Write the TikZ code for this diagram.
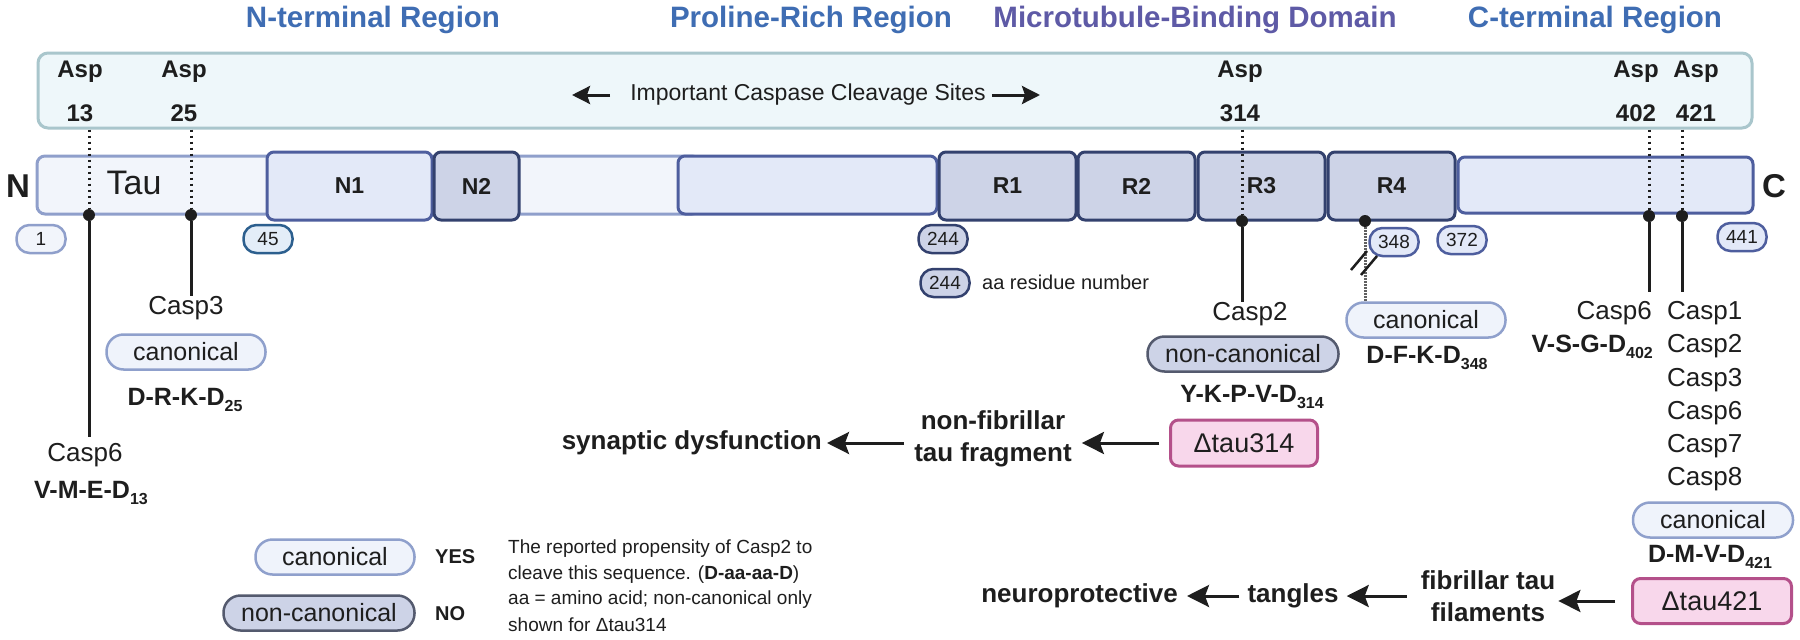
\documentclass[tikz,border=0pt]{standalone}
\usepackage{fontspec}
\setmainfont{Liberation Sans}
\usetikzlibrary{arrows.meta}
\definecolor{txt}{HTML}{1E1E1E}
\definecolor{tblue}{HTML}{3F6DB3}
\definecolor{tpurple}{HTML}{5E5AA6}
\definecolor{topfill}{HTML}{EEF7FA}
\definecolor{topdraw}{HTML}{A9C6CC}
\definecolor{barfill}{HTML}{F2F5FB}
\definecolor{bardraw}{HTML}{8F9FCB}
\definecolor{ldfill}{HTML}{E3E9F8}
\definecolor{lddraw}{HTML}{4E5E9E}
\definecolor{ddfill}{HTML}{CDD3E7}
\definecolor{dddraw}{HTML}{33416E}
\definecolor{canfill}{HTML}{EFF3FB}
\definecolor{candraw}{HTML}{8FA0CC}
\definecolor{ncfill}{HTML}{CDD3E7}
\definecolor{ncdraw}{HTML}{545A6E}
\definecolor{tealfill}{HTML}{E3EDF8}
\definecolor{tealdraw}{HTML}{2C5F8E}
\definecolor{fragfill}{HTML}{F8D7EB}
\definecolor{fragdraw}{HTML}{B4508A}
\newcommand\fsz[1]{\fontsize{#1}{#1}\selectfont}
\newcommand\aasub[1]{\raisebox{-0.22em}{\fontsize{16}{16}\selectfont #1}}
\begin{document}
\begin{tikzpicture}[x=1pt,y=-1pt,
 title/.style={font=\fsz{29.5}\bfseries, inner sep=0pt},
 aspl/.style={font=\fsz{24}\bfseries, text=txt, inner sep=0pt},
 dombox/.style={draw, line width=3pt, rounded corners=7pt, inner sep=0pt, font=\fsz{23}\bfseries, text=txt},
 lightdom/.style={dombox, fill=ldfill, draw=lddraw},
 darkdom/.style={dombox, fill=ddfill, draw=dddraw},
 dotn/.style={circle, fill=txt, inner sep=0pt, minimum size=12pt},
 dotline/.style={line width=3pt, dash pattern=on 2.5pt off 3.5pt, draw=txt},
 r4line/.style={line width=3pt, dash pattern=on 1.5pt off 1.5pt, draw=txt!70},
 stick/.style={line width=3pt, draw=txt},
 res/.style={draw, line width=2.5pt, rounded corners=13pt, minimum height=28pt, minimum width=49pt, inner sep=0pt, font=\fsz{19}, text=txt},
 resl/.style={res, fill=barfill, draw=bardraw},
 resm/.style={res, fill=ldfill, draw=lddraw},
 resd/.style={res, fill=ddfill, draw=dddraw},
 pill/.style={draw, line width=2.5pt, rounded corners=17pt, minimum height=35pt, inner sep=0pt, font=\fsz{25}, text=txt},
 canon/.style={pill, fill=canfill, draw=candraw, minimum width=159pt},
 noncanon/.style={pill, fill=ncfill, draw=ncdraw, minimum width=191pt},
 casp/.style={font=\fsz{26}, inner sep=0pt, text=txt},
 seq/.style={font=\fsz{25}\bfseries, inner sep=0pt, text=txt},
 frag/.style={draw=fragdraw, fill=fragfill, line width=3pt, rounded corners=8pt, minimum height=46pt, inner sep=0pt, font=\fsz{27}, text=txt},
 outc/.style={font=\fontsize{26}{32}\selectfont\bfseries, align=center, inner sep=0pt, text=txt},
 arr/.style={line width=3pt, draw=txt, -{Stealth[length=22pt,width=22pt,inset=4pt]}},
 sarr/.style={line width=3pt, draw=txt, -{Stealth[length=18pt,width=18pt,inset=3pt]}},
 legtxt/.style={font=\fsz{19}, inner sep=0pt, anchor=west, text=txt}
]
\useasboundingbox[fill=white] (0,0) rectangle (1800,640);

% titles
\node[title, text=tblue] (tN) at (373,20) {N-terminal Region};
\node[title, text=tblue] (tP) at (811,20) {Proline-Rich Region};
\node[title, text=tpurple] (tM) at (1195,20) {Microtubule-Binding Domain};
\node[title, text=tblue] (tC) at (1595,20) {C-terminal Region};

% top box
\node[draw=topdraw, fill=topfill, line width=3pt, rounded corners=10pt, minimum width=1714pt, minimum height=75pt, inner sep=0pt] (top) at (895,90.5) {};
\node[aspl] (a13) at (80,72) {Asp};
\node[aspl] (n13) at (80,113) {13};
\node[aspl] (a25) at (184,72) {Asp};
\node[aspl] (n25) at (184,113) {25};
\node[aspl] (a314) at (1240,72) {Asp};
\node[aspl] (n314) at (1240,113) {314};
\node[aspl] (a402) at (1636,72) {Asp};
\node[aspl] (n402) at (1636,113) {402};
\node[aspl] (a421) at (1696,72) {Asp};
\node[aspl] (n421) at (1696,113) {421};
\node[font=\fsz{23}, inner sep=0pt, text=txt] (ics) at (808,95) {Important Caspase Cleavage Sites};
\coordinate (icsL) at (572,95);
\coordinate (icsR) at (1040,95);
\draw[sarr, shorten <=20pt] (ics.west) -- (icsL);
\draw[sarr, shorten <=6pt] (ics.east) -- (icsR);

% tau bar
\node[draw=bardraw, fill=barfill, line width=3pt, rounded corners=8pt, minimum width=663pt, minimum height=58pt, inner sep=0pt] (bar) at (368.5,185) {};
\node[font=\fsz{34}, inner sep=0pt, text=txt] (tau) at (134,183) {Tau};
\node[font=\fsz{33}\bfseries, inner sep=0pt, text=txt] (Nend) at (18,186) {N};
\node[lightdom, minimum width=165pt, minimum height=68pt] (N1) at (349.5,186) {N1};
\node[darkdom, minimum width=85pt, minimum height=68pt] (N2) at (476.5,186) {N2};
\node[lightdom, minimum width=259pt, minimum height=58pt] (PR) at (807.5,185) {};
\node[darkdom, minimum width=137pt, minimum height=68pt] (R1) at (1007.5,186) {R1};
\node[darkdom, minimum width=117pt, minimum height=68pt] (R2) at (1136.5,186) {R2};
\node[darkdom, minimum width=127pt, minimum height=68pt] (R3) at (1261.5,186) {R3};
\node[darkdom, minimum width=127pt, minimum height=68pt] (R4) at (1391.5,186) {R4};
\node[lightdom, minimum width=295pt, minimum height=56pt] (CR) at (1605.5,185) {};
\node[font=\fsz{33}\bfseries, inner sep=0pt, text=txt] (Cend) at (1774,186) {C};

% residue numbers
\node[resl] (r1) at (41,239) {1};
\node[res, fill=tealfill, draw=tealdraw] (r45) at (268,239) {45};
\node[resd] (r244) at (943,239) {244};
\node[resm] (r348) at (1394,242) {348};
\node[resm] (r372) at (1462,240) {372};
\node[resm] (r441) at (1742,237) {441};
\node[resd] (rleg) at (945,283) {244};
\node[font=\fsz{20}, inner sep=0pt, anchor=west, text=txt] (rlegt) at (982,282) {aa residue number};

% dotted lines and dots
\node[dotn] (d13) at (89,215) {};
\node[dotn] (d25) at (191,215) {};
\node[dotn] (d314) at (1242,221) {};
\node[dotn] (d348) at (1365,221) {};
\node[dotn] (d402) at (1649,216) {};
\node[dotn] (d421) at (1682,216) {};
\draw[dotline] (d13 |- top.south) -- (d13);
\draw[dotline] (d25 |- top.south) -- (d25);
\draw[dotline] (d314 |- top.south) -- (d314);
\draw[dotline] (d402 |- top.south) -- (d402);
\draw[dotline] (d421 |- top.south) -- (d421);

% Asp13
\coordinate (e13) at (89,437);
\draw[stick] (d13) -- (e13);
\node[casp] (c13) at (85,455) {Casp6};
\node[seq] (s13) at (91,493) {V-M-E-D\aasub{13}};

% Asp25
\node[casp] (c25) at (186,308) {Casp3};
\draw[stick] (d25) -- (d25 |- c25.north);
\node[canon] (p25) at (186,352) {canonical};
\node[seq] (s25) at (185,400) {D-R-K-D\aasub{25}};

% Asp314
\node[casp] (c314) at (1250,314) {Casp2};
\draw[stick] (d314) -- (d314 |- c314.north);
\node[noncanon] (p314) at (1243,354) {non-canonical};
\node[seq] (s314) at (1252,397) {Y-K-P-V-D\aasub{314}};
\node[frag, minimum width=147pt] (f314) at (1244,443) {Δtau314};
\node[outc] (nonfib) at (993,439) {non-fibrillar\\tau fragment};
\node[outc, anchor=east] (syn) at (822,443) {synaptic dysfunction};
\draw[arr, shorten <=10pt, shorten >=10pt] (f314.west) -- (f314.west -| nonfib.east);
\draw[arr, shorten <=10pt, shorten >=5pt] (f314.west -| nonfib.west) -- (f314.west -| syn.east);

% Asp348
\node[canon] (p348) at (1426,320) {canonical};
\draw[r4line] (d348) -- (d348 |- p348.north);
\draw[line width=2.5pt, draw=txt] (1351,270) -- (1367,251);
\draw[line width=2.5pt, draw=txt] (1361,275) -- (1377,256);
\node[seq] (s348) at (1427,358) {D-F-K-D\aasub{348}};

% Asp402
\node[casp, anchor=east] (c402) at (1652,313) {Casp6};
\coordinate (e402) at (1649,292);
\draw[stick] (d402) -- (e402);
\node[seq, anchor=east] (s402) at (1653,347) {V-S-G-D\aasub{402}};

% Asp421
\coordinate (e421) at (1682,292);
\draw[stick] (d421) -- (e421);
\node[casp, anchor=west] (c421a) at (1667,313) {Casp1};
\node[casp, anchor=west] (c421b) at (1667,346) {Casp2};
\node[casp, anchor=west] (c421c) at (1667,380) {Casp3};
\node[casp, anchor=west] (c421d) at (1667,413) {Casp6};
\node[casp, anchor=west] (c421e) at (1667,446) {Casp7};
\node[casp, anchor=west] (c421f) at (1667,479) {Casp8};
\node[canon, minimum width=160pt] (p421) at (1713,520) {canonical};
\node[seq] (s421) at (1710,557) {D-M-V-D\aasub{421}};
\node[frag, minimum width=159pt, minimum height=45pt] (f421) at (1712,601) {Δtau421};
\node[outc] (fib) at (1488,596) {fibrillar tau\\filaments};
\node[outc] (tang) at (1293,596) {tangles};
\node[outc, anchor=east] (neuro) at (1178,596) {neuroprotective};
\draw[arr, shorten <=16pt, shorten >=3pt] (f421.west) -- (f421.west -| fib.east);
\draw[arr, shorten <=14pt, shorten >=8pt] (tang.east -| fib.west) -- (tang.east);
\draw[arr, shorten <=8pt, shorten >=9pt] (tang.west) -- (neuro.east);

% legend
\node[canon] (lcan) at (335,557) {canonical};
\node[noncanon] (lnc) at (319,613) {non-canonical};
\node[font=\fsz{20}\bfseries, inner sep=0pt, anchor=west, text=txt] (lyes) at (435,557) {YES};
\node[font=\fsz{20}\bfseries, inner sep=0pt, anchor=west, text=txt] (lno) at (435,614) {NO};
\node[legtxt] (l1) at (508,549) {The reported propensity of Casp2 to};
\node[legtxt] (l2) at (508,575) {cleave this sequence. (\textbf{D-aa-aa-D})};
\node[legtxt] (l3) at (508,600) {aa = amino acid; non-canonical only};
\node[legtxt] (l4) at (508,625) {shown for Δtau314};
\end{tikzpicture}
\end{document}
